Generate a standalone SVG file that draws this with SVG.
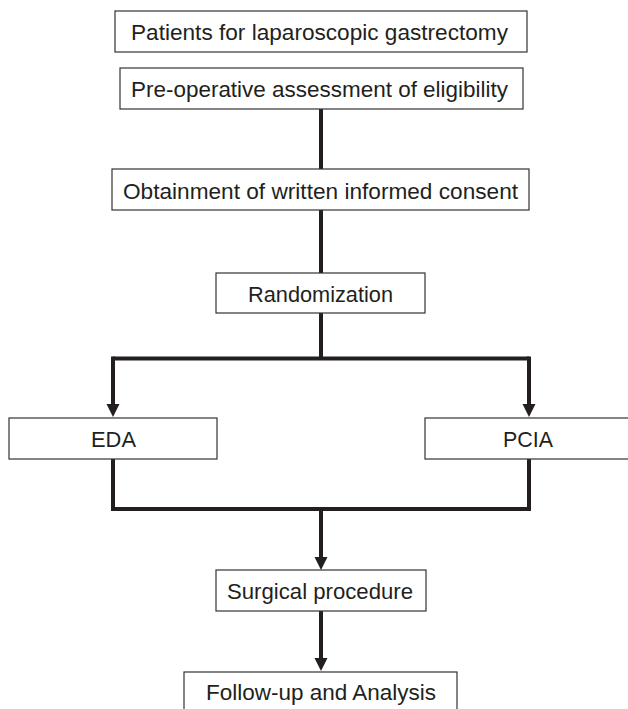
<svg xmlns="http://www.w3.org/2000/svg" width="628" height="709" viewBox="0 0 628 709">
<style>
.box{fill:#fff;stroke:#333;stroke-width:1.2}
.lbl{font-family:"Liberation Sans",Arial,sans-serif;font-size:22px;fill:#231f20;text-anchor:middle}
.ln{fill:none;stroke:#231f20;stroke-width:4;stroke-linejoin:miter}
.ah{fill:#231f20}
</style>
<rect width="628" height="709" fill="#fff"/>
<g id="connectors">
<path class="ln" d="M321,109 V169"/>
<path class="ln" d="M321,210 V273"/>
<path class="ln" d="M321,313 V358.5"/>
<path class="ln" d="M113,358.5 H529"/>
<path class="ln" d="M113,356.5 V404"/>
<path class="ln" d="M529,356.5 V404"/>
<path class="ah" d="M106.5,404 H119.5 L113,417 Z"/>
<path class="ah" d="M522.5,404 H535.5 L529,417 Z"/>
<path class="ln" d="M113,459 V509 H529 V459"/>
<path class="ln" d="M321,509 V557"/>
<path class="ah" d="M314.5,557 H327.5 L321,570 Z"/>
<path class="ln" d="M321,611 V658"/>
<path class="ah" d="M314.5,658 H327.5 L321,671 Z"/>
</g>
<g id="n1">
<rect class="box" x="115" y="11" width="412" height="41"/>
<text class="lbl" x="319.5" y="39.5" textLength="377" lengthAdjust="spacingAndGlyphs">Patients for laparoscopic gastrectomy</text>
</g>
<g id="n2">
<rect class="box" x="120" y="68" width="403" height="41"/>
<text class="lbl" x="319.5" y="97" textLength="377" lengthAdjust="spacingAndGlyphs">Pre-operative assessment of eligibility</text>
</g>
<g id="n3">
<rect class="box" x="112" y="169" width="417" height="41"/>
<text class="lbl" x="320.5" y="199" textLength="395" lengthAdjust="spacingAndGlyphs">Obtainment of written informed consent</text>
</g>
<g id="n4">
<rect class="box" x="216" y="273" width="209" height="40"/>
<text class="lbl" x="320.5" y="302" textLength="145" lengthAdjust="spacingAndGlyphs">Randomization</text>
</g>
<g id="n5">
<rect class="box" x="9" y="418" width="208" height="41"/>
<text class="lbl" x="113.5" y="447" textLength="45" lengthAdjust="spacingAndGlyphs">EDA</text>
</g>
<g id="n6">
<rect class="box" x="425" y="418" width="206" height="41"/>
<text class="lbl" x="528" y="447" textLength="50" lengthAdjust="spacingAndGlyphs">PCIA</text>
</g>
<g id="n7">
<rect class="box" x="216" y="570" width="210" height="41"/>
<text class="lbl" x="320" y="599" textLength="186" lengthAdjust="spacingAndGlyphs">Surgical procedure</text>
</g>
<g id="n8">
<rect class="box" x="184" y="672" width="273" height="45"/>
<text class="lbl" x="321" y="700" textLength="230" lengthAdjust="spacingAndGlyphs">Follow-up and Analysis</text>
</g>
</svg>
